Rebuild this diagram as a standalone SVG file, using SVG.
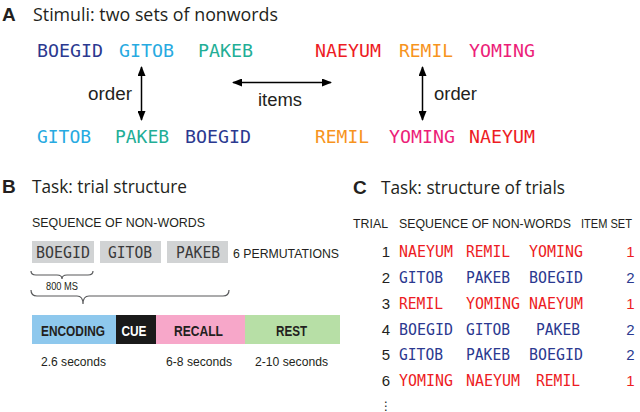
<svg xmlns="http://www.w3.org/2000/svg" width="640" height="412" viewBox="0 0 640 412">
<style>
text{font-family:"Liberation Sans",Arial,sans-serif;fill:#231f20}
.title{font-family:"Open Sans","Liberation Sans",sans-serif;font-size:19px}
.letter{font-family:"Liberation Sans",Arial,sans-serif;font-weight:bold;font-size:19px}
.mA{font-family:"DejaVu Sans Mono",monospace;font-size:18.3px}
.mB{font-family:"DejaVu Sans Mono",monospace;font-size:15px}
.lab{font-size:17.5px}
.cap{font-size:13px}
.bar{font-weight:bold;font-size:15px}
.num{font-size:15px}
.navy{fill:#2b3990}.cyan{fill:#27aae1}.teal{fill:#22ae96}
.red{fill:#ed1c24}.orange{fill:#f7941d}.mag{fill:#ec1e79}
.box{fill:#d1d3d4}
.brace{fill:none;stroke:#58595b;stroke-width:1.2}
.arrow{stroke:#000;stroke-width:1.5;fill:none}
</style>
<defs>
<marker id="ah" viewBox="0 0 10 8" refX="9" refY="4" markerWidth="10" markerHeight="8" markerUnits="userSpaceOnUse" orient="auto-start-reverse">
<path d="M0,0 L10,4 L0,8 z" fill="#000"/>
</marker>
</defs>

<!-- Panel A -->
<g id="panelA-title">
<text class="letter" x="2" y="21">A</text>
<text class="title" x="33" y="21" textLength="245" lengthAdjust="spacingAndGlyphs">Stimuli: two sets of nonwords</text>
</g>
<g id="set2-row1">
<text class="mA navy" x="37" y="57" textLength="66" lengthAdjust="spacingAndGlyphs">BOEGID</text>
<text class="mA cyan" x="119" y="57" textLength="55" lengthAdjust="spacingAndGlyphs">GITOB</text>
<text class="mA teal" x="198" y="57" textLength="55" lengthAdjust="spacingAndGlyphs">PAKEB</text>
</g>
<g id="set1-row1">
<text class="mA red" x="315" y="57" textLength="66" lengthAdjust="spacingAndGlyphs">NAEYUM</text>
<text class="mA orange" x="399" y="57" textLength="54" lengthAdjust="spacingAndGlyphs">REMIL</text>
<text class="mA mag" x="469" y="57" textLength="66" lengthAdjust="spacingAndGlyphs">YOMING</text>
</g>
<g id="set2-row2">
<text class="mA cyan" x="37" y="143" textLength="54" lengthAdjust="spacingAndGlyphs">GITOB</text>
<text class="mA teal" x="115" y="143" textLength="54" lengthAdjust="spacingAndGlyphs">PAKEB</text>
<text class="mA navy" x="185" y="143" textLength="66" lengthAdjust="spacingAndGlyphs">BOEGID</text>
</g>
<g id="set1-row2">
<text class="mA orange" x="315" y="143" textLength="54" lengthAdjust="spacingAndGlyphs">REMIL</text>
<text class="mA mag" x="389" y="143" textLength="66" lengthAdjust="spacingAndGlyphs">YOMING</text>
<text class="mA red" x="469" y="143" textLength="66" lengthAdjust="spacingAndGlyphs">NAEYUM</text>
</g>
<g id="connectors">
<line class="arrow" x1="141.5" y1="67" x2="141.5" y2="120" marker-start="url(#ah)" marker-end="url(#ah)"/>
<line class="arrow" x1="233" y1="82.5" x2="331" y2="82.5" marker-start="url(#ah)" marker-end="url(#ah)"/>
<line class="arrow" x1="422.5" y1="67" x2="422.5" y2="120" marker-start="url(#ah)" marker-end="url(#ah)"/>
</g>
<g id="arrow-labels">
<text class="lab" x="88" y="100" textLength="44" lengthAdjust="spacingAndGlyphs">order</text>
<text class="lab" x="258" y="106" textLength="44" lengthAdjust="spacingAndGlyphs">items</text>
<text class="lab" x="434" y="100" textLength="43" lengthAdjust="spacingAndGlyphs">order</text>
</g>

<!-- Panel B -->
<g id="panelB-title">
<text class="letter" x="2" y="193">B</text>
<text class="title" x="32" y="193" textLength="155" lengthAdjust="spacingAndGlyphs">Task: trial structure</text>
</g>
<g id="seq-label">
<text class="cap" x="32" y="227" textLength="173" lengthAdjust="spacingAndGlyphs">SEQUENCE OF NON-WORDS</text>
</g>
<g id="word-boxes">
<rect class="box" x="32" y="241" width="62" height="22"/>
<rect class="box" x="100" y="241" width="61" height="22"/>
<rect class="box" x="167" y="241" width="61" height="22"/>
<text class="mB" x="36" y="258" style="fill:#3a3a3a" textLength="54" lengthAdjust="spacingAndGlyphs">BOEGID</text>
<text class="mB" x="108" y="258" style="fill:#3a3a3a" textLength="44" lengthAdjust="spacingAndGlyphs">GITOB</text>
<text class="mB" x="176" y="258" style="fill:#3a3a3a" textLength="44" lengthAdjust="spacingAndGlyphs">PAKEB</text>
<text class="cap" x="233" y="258" textLength="106" lengthAdjust="spacingAndGlyphs">6 PERMUTATIONS</text>
</g>
<g id="braces">
<path class="brace" d="M31,271 Q31,275 36,275 L57,275 Q62,275 62,279 Q62,275 67,275 L88,275 Q93,275 93,271"/>
<text x="46" y="290" style="font-size:10px" textLength="32" lengthAdjust="spacingAndGlyphs">800 MS</text>
<path class="brace" d="M31,290 Q31,296 37,296 L77,296 Q83,296 83,304 Q83,296 89,296 L223,296 Q229,296 229,290"/>
</g>
<g id="trial-bar">
<rect x="32" y="315" width="84.5" height="29" fill="#8ec8ed"/>
<rect x="116" y="315" width="40.5" height="29" fill="#1a1a1a"/>
<rect x="156" y="315" width="89.5" height="29" fill="#f7a7c9"/>
<rect x="245" y="315" width="95" height="29" fill="#b7dfa6"/>
<text class="bar" x="41" y="336" textLength="64" lengthAdjust="spacingAndGlyphs">ENCODING</text>
<text class="bar" x="121.5" y="336" style="fill:#fff" textLength="25" lengthAdjust="spacingAndGlyphs">CUE</text>
<text class="bar" x="174" y="336" textLength="49" lengthAdjust="spacingAndGlyphs">RECALL</text>
<text class="bar" x="276" y="336" textLength="31" lengthAdjust="spacingAndGlyphs">REST</text>
</g>
<g id="durations">
<text x="41" y="365.5" style="font-size:13.5px" textLength="65" lengthAdjust="spacingAndGlyphs">2.6 seconds</text>
<text x="166" y="365.5" style="font-size:13.5px" textLength="66" lengthAdjust="spacingAndGlyphs">6-8 seconds</text>
<text x="255" y="365.5" style="font-size:13.5px" textLength="73" lengthAdjust="spacingAndGlyphs">2-10 seconds</text>
</g>

<!-- Panel C -->
<g id="panelC-title">
<text class="letter" x="353" y="194">C</text>
<text class="title" x="381" y="194" textLength="184" lengthAdjust="spacingAndGlyphs">Task: structure of trials</text>
</g>
<g id="table-header">
<text class="cap" x="353" y="228" textLength="35" lengthAdjust="spacingAndGlyphs">TRIAL</text>
<text class="cap" x="399" y="228" textLength="172" lengthAdjust="spacingAndGlyphs">SEQUENCE OF NON-WORDS</text>
<text class="cap" x="581" y="228" textLength="51" lengthAdjust="spacingAndGlyphs">ITEM SET</text>
</g>
<g id="trial-rows">
<g id="trial1">
<text class="num" x="390" y="257" text-anchor="end">1</text>
<text class="mB red" x="399" y="257" textLength="54" lengthAdjust="spacingAndGlyphs">NAEYUM</text>
<text class="mB red" x="466" y="257" textLength="44" lengthAdjust="spacingAndGlyphs">REMIL</text>
<text class="mB red" x="529" y="257" textLength="54" lengthAdjust="spacingAndGlyphs">YOMING</text>
<text class="num red" x="630.5" y="257" text-anchor="middle">1</text>
</g>
<g id="trial2">
<text class="num" x="390" y="283" text-anchor="end">2</text>
<text class="mB navy" x="399" y="283" textLength="44" lengthAdjust="spacingAndGlyphs">GITOB</text>
<text class="mB navy" x="466" y="283" textLength="44" lengthAdjust="spacingAndGlyphs">PAKEB</text>
<text class="mB navy" x="529" y="283" textLength="54" lengthAdjust="spacingAndGlyphs">BOEGID</text>
<text class="num navy" x="630.5" y="283" text-anchor="middle">2</text>
</g>
<g id="trial3">
<text class="num" x="390" y="308.5" text-anchor="end">3</text>
<text class="mB red" x="399" y="308.5" textLength="44" lengthAdjust="spacingAndGlyphs">REMIL</text>
<text class="mB red" x="466" y="308.5" textLength="54" lengthAdjust="spacingAndGlyphs">YOMING</text>
<text class="mB red" x="529" y="308.5" textLength="54" lengthAdjust="spacingAndGlyphs">NAEYUM</text>
<text class="num red" x="630.5" y="308.5" text-anchor="middle">1</text>
</g>
<g id="trial4">
<text class="num" x="390" y="334.5" text-anchor="end">4</text>
<text class="mB navy" x="399" y="334.5" textLength="54" lengthAdjust="spacingAndGlyphs">BOEGID</text>
<text class="mB navy" x="466" y="334.5" textLength="44" lengthAdjust="spacingAndGlyphs">GITOB</text>
<text class="mB navy" x="536" y="334.5" textLength="44" lengthAdjust="spacingAndGlyphs">PAKEB</text>
<text class="num navy" x="630.5" y="334.5" text-anchor="middle">2</text>
</g>
<g id="trial5">
<text class="num" x="390" y="360" text-anchor="end">5</text>
<text class="mB navy" x="399" y="360" textLength="44" lengthAdjust="spacingAndGlyphs">GITOB</text>
<text class="mB navy" x="466" y="360" textLength="44" lengthAdjust="spacingAndGlyphs">PAKEB</text>
<text class="mB navy" x="529" y="360" textLength="54" lengthAdjust="spacingAndGlyphs">BOEGID</text>
<text class="num navy" x="630.5" y="360" text-anchor="middle">2</text>
</g>
<g id="trial6">
<text class="num" x="390" y="386" text-anchor="end">6</text>
<text class="mB red" x="399" y="386" textLength="54" lengthAdjust="spacingAndGlyphs">YOMING</text>
<text class="mB red" x="466" y="386" textLength="54" lengthAdjust="spacingAndGlyphs">NAEYUM</text>
<text class="mB red" x="536" y="386" textLength="44" lengthAdjust="spacingAndGlyphs">REMIL</text>
<text class="num red" x="630.5" y="386" text-anchor="middle">1</text>
</g>
<text x="386" y="410" text-anchor="middle" style="font-family:'DejaVu Sans',sans-serif;font-size:12px">⋮</text>
</g>
</svg>
